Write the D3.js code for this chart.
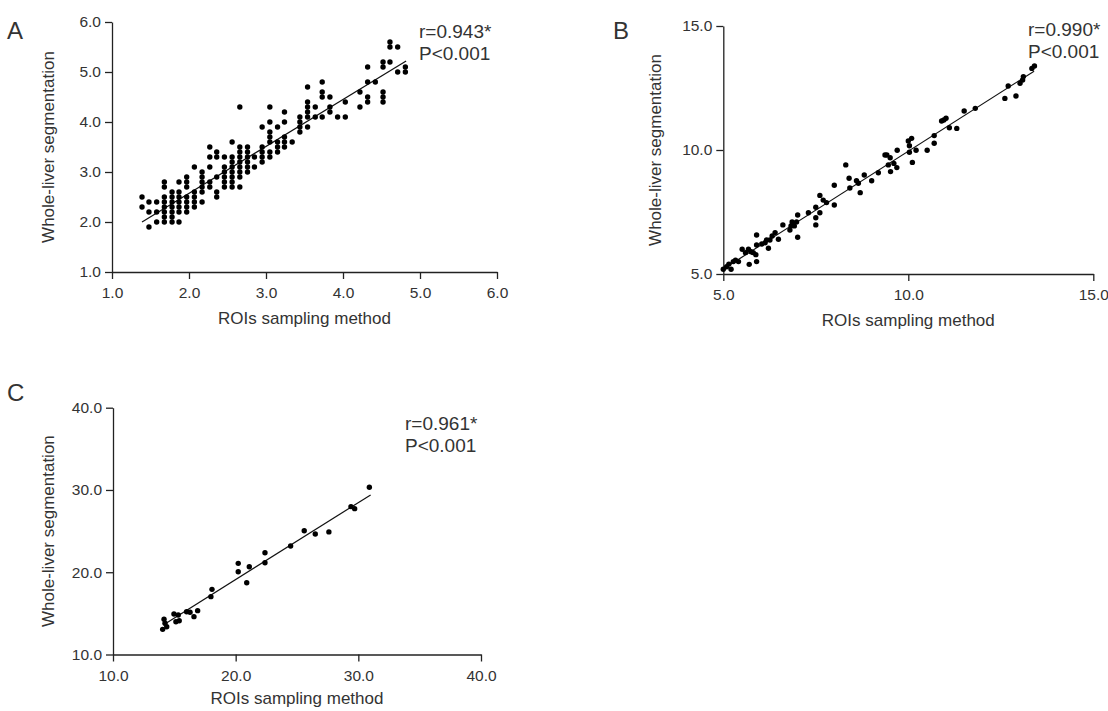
<!DOCTYPE html>
<html>
<head>
<meta charset="utf-8">
<script src="https://cdn.jsdelivr.net/npm/d3@7"></script>
<style>
  body { margin: 0; background: #fff; }
  svg text { font-family: "Liberation Sans", Arial, sans-serif; fill: #333; }
</style>
</head>
<body>
<svg width="1108" height="711"></svg>
<script>
// panel A: points sit in columns, so keep each column's x with its y values
const aColX = [1.39, 1.48, 1.58, 1.68, 1.78, 1.87, 1.97, 2.07, 2.17, 2.27, 2.36, 2.46, 2.56, 2.66,
               2.76, 2.85, 2.95, 3.05, 3.15, 3.24, 3.34, 3.44, 3.54, 3.64, 3.73, 3.83, 3.93, 4.03,
               4.22, 4.32, 4.42, 4.52, 4.61, 4.71, 4.81];
const aColY = [
  [2.5, 2.3], [2.4, 2.2, 1.9], [2.4, 2.2, 2.0],
  [2.8, 2.7, 2.5, 2.4, 2.3, 2.2, 2.1, 2.0], [2.6, 2.5, 2.4, 2.3, 2.2, 2.1, 2.0],
  [2.8, 2.6, 2.5, 2.4, 2.3, 2.2, 2.0], [2.9, 2.8, 2.7, 2.5, 2.4, 2.3, 2.2],
  [3.1, 2.6, 2.5, 2.4, 2.3], [3.0, 2.9, 2.8, 2.7, 2.6, 2.4], [3.5, 3.3, 3.1, 2.8, 2.7],
  [3.4, 3.3, 2.9, 2.6, 2.5], [3.3, 3.1, 3.0, 2.9, 2.8, 2.7],
  [3.6, 3.3, 3.2, 3.1, 3.0, 2.9, 2.8, 2.7], [4.3, 3.5, 3.4, 3.3, 3.2, 3.1, 3.0, 2.9, 2.7],
  [3.5, 3.4, 3.3, 3.2, 3.1, 3.0], [3.3, 3.1],
  [3.9, 3.5, 3.4, 3.3, 3.2], [4.3, 4.0, 3.8, 3.7, 3.6, 3.4, 3.3], [3.9, 3.6, 3.5, 3.4],
  [4.2, 4.0, 3.7, 3.6, 3.5], [3.6], [4.1, 4.0, 3.9, 3.8], [4.7, 4.4, 4.3, 4.2, 4.1, 3.9],
  [4.3, 4.1], [4.8, 4.6, 4.5, 4.1], [4.5, 4.3, 4.2], [4.1], [4.4, 4.1], [4.6, 4.3],
  [5.1, 4.8, 4.5, 4.4], [4.8], [5.2, 5.1, 4.6, 4.5, 4.4], [5.6, 5.5, 5.2], [5.5, 5.0], [5.1, 5.0]
];
const aTicks = [1, 2, 3, 4, 5, 6];
const aFit = [[1.39, 2.0], [4.82, 5.22]];

// panel B
const bX = [5.00, 5.09, 5.15, 5.21, 5.27, 5.33, 5.41, 5.51, 5.60, 5.68, 5.70, 5.75, 5.81, 5.88,
            5.90, 5.90, 5.90, 6.04, 6.13, 6.17, 6.22, 6.26, 6.32, 6.40, 6.49, 6.61, 6.80, 6.83,
            6.86, 6.92, 6.98, 7.01, 7.01, 7.30, 7.50, 7.50, 7.50, 7.61, 7.61, 7.70, 7.79, 8.00,
            8.00, 8.31, 8.40, 8.42, 8.60, 8.65, 8.70, 8.81, 9.01, 9.19, 9.37, 9.42, 9.46, 9.51,
            9.52, 9.61, 9.69, 9.70, 10.00, 10.03, 10.03, 10.09, 10.11, 10.21, 10.51, 10.70, 10.70,
            10.90, 10.96, 11.02, 11.11, 11.31, 11.51, 11.81, 12.61, 12.70, 12.91, 13.02, 13.09,
            13.11, 13.34, 13.41];
const bY = [5.19, 5.29, 5.40, 5.19, 5.50, 5.56, 5.50, 6.00, 5.86, 6.00, 5.39, 5.90, 5.86, 5.78,
            6.57, 6.17, 5.50, 6.21, 6.26, 6.37, 6.04, 6.37, 6.53, 6.67, 6.40, 6.98, 6.77, 6.94,
            7.10, 6.94, 7.10, 7.38, 6.48, 7.47, 7.69, 7.27, 6.98, 8.17, 7.47, 7.98, 7.88, 8.58,
            7.78, 9.40, 8.86, 8.47, 8.76, 8.66, 8.28, 8.99, 8.76, 9.08, 9.80, 9.80, 9.40, 9.69,
            9.13, 9.46, 9.29, 9.99, 10.36, 10.17, 9.91, 10.47, 9.50, 9.99, 9.99, 10.58, 10.27,
            11.17, 11.21, 11.28, 10.90, 10.87, 11.57, 11.68, 12.08, 12.58, 12.18, 12.69, 12.82,
            12.96, 13.29, 13.39];
const bTicks = [5, 10, 15];
const bFit = [[5.0, 5.2], [13.4, 13.18]];

// panel C
const cX = [14.05, 14.16, 14.24, 14.38, 14.97, 15.13, 15.32, 15.40, 16.00, 16.28, 16.60, 16.90,
            17.98, 18.07, 20.21, 20.21, 20.90, 21.11, 22.39, 22.39, 24.48, 25.59, 26.49, 27.60,
            29.40, 29.70, 30.90];
const cY = [13.06, 14.28, 13.79, 13.38, 14.92, 13.99, 14.80, 14.11, 15.20, 15.13, 14.60, 15.33,
            17.03, 17.92, 21.08, 20.06, 18.73, 20.67, 22.37, 21.16, 23.19, 25.05, 24.65, 24.90,
            27.97, 27.73, 30.33];
const cTicks = [10, 20, 30, 40];
const cFit = [[14.1, 13.6], [31.0, 29.4]];

const xTitle = "ROIs sampling method";
const yTitle = "Whole-liver segmentation";

const svg = d3.select("svg");

const aPoints = [];
aColX.forEach((x, i) => aColY[i].forEach(y => aPoints.push([x, y])));

const panels = [
  { letter: "A", letterX: 7, letterY: 39, pts: aPoints, ticks: aTicks, fit: aFit,
    xr: [112, 497], yr: [272, 22], yTitleX: 48, xTitleY: 324,
    stat: ["r=0.943*", "P<0.001"], statX: 419, statY: 38 },
  { letter: "B", letterX: 613, letterY: 39, pts: bX.map((d, i) => [d, bY[i]]), ticks: bTicks, fit: bFit,
    xr: [723.3, 1093.3], yr: [274, 26], yTitleX: 655, xTitleY: 326,
    stat: ["r=0.990*", "P<0.001"], statX: 1028, statY: 36 },
  { letter: "C", letterX: 7, letterY: 401, pts: cX.map((d, i) => [d, cY[i]]), ticks: cTicks, fit: cFit,
    xr: [113, 481], yr: [654.5, 407.7], yTitleX: 48, xTitleY: 704,
    stat: ["r=0.961*", "P<0.001"], statX: 405, statY: 430 }
];

panels.forEach(p => {
  const dom = d3.extent(p.ticks);
  const x = d3.scaleLinear().domain(dom).range(p.xr);
  const y = d3.scaleLinear().domain(dom).range(p.yr);

  const g = svg.append("g");

  const xAxis = g.append("g")
    .attr("transform", "translate(0," + p.yr[0] + ")")
    .call(d3.axisBottom(x).tickValues(p.ticks).tickFormat(d3.format(".1f"))
      .tickSize(7).tickSizeOuter(0).tickPadding(8));
  const yAxis = g.append("g")
    .attr("transform", "translate(" + p.xr[0] + ",0)")
    .call(d3.axisLeft(y).tickValues(p.ticks).tickFormat(d3.format(".1f"))
      .tickSize(7).tickSizeOuter(0).tickPadding(4));

  [xAxis, yAxis].forEach(a => {
    a.attr("font-size", null).attr("font-family", null);
    a.selectAll("path, line").attr("stroke", "#222").attr("stroke-width", 1.3);
    a.selectAll("text").style("font-size", "15.5px").attr("fill", "#333");
  });

  // fit line
  g.append("line")
    .attr("x1", x(p.fit[0][0])).attr("y1", y(p.fit[0][1]))
    .attr("x2", x(p.fit[1][0])).attr("y2", y(p.fit[1][1]))
    .attr("stroke", "#111").attr("stroke-width", 1.2);

  g.append("g").selectAll("circle")
    .data(p.pts)
    .enter().append("circle")
    .attr("cx", d => x(d[0]))
    .attr("cy", d => y(d[1]))
    .attr("r", 2.7)
    .attr("fill", "#000");

  // titles
  g.append("text")
    .attr("x", (p.xr[0] + p.xr[1]) / 2).attr("y", p.xTitleY)
    .attr("text-anchor", "middle").style("font-size", "17px")
    .text(xTitle);
  g.append("text")
    .attr("transform", "translate(" + p.yTitleX + "," + (p.yr[0] + p.yr[1]) / 2 + ") rotate(-90)")
    .attr("dy", "0.35em")
    .attr("text-anchor", "middle").style("font-size", "17px")
    .text(yTitle);

  g.append("text")
    .attr("x", p.letterX).attr("y", p.letterY)
    .style("font-size", "24px")
    .text(p.letter);

  g.selectAll(".stat")
    .data(p.stat)
    .enter().append("text")
    .attr("x", p.statX)
    .attr("y", (d, i) => p.statY + i * 22)
    .style("font-size", "19px")
    .text(d => d);
});
</script>
</body>
</html>
